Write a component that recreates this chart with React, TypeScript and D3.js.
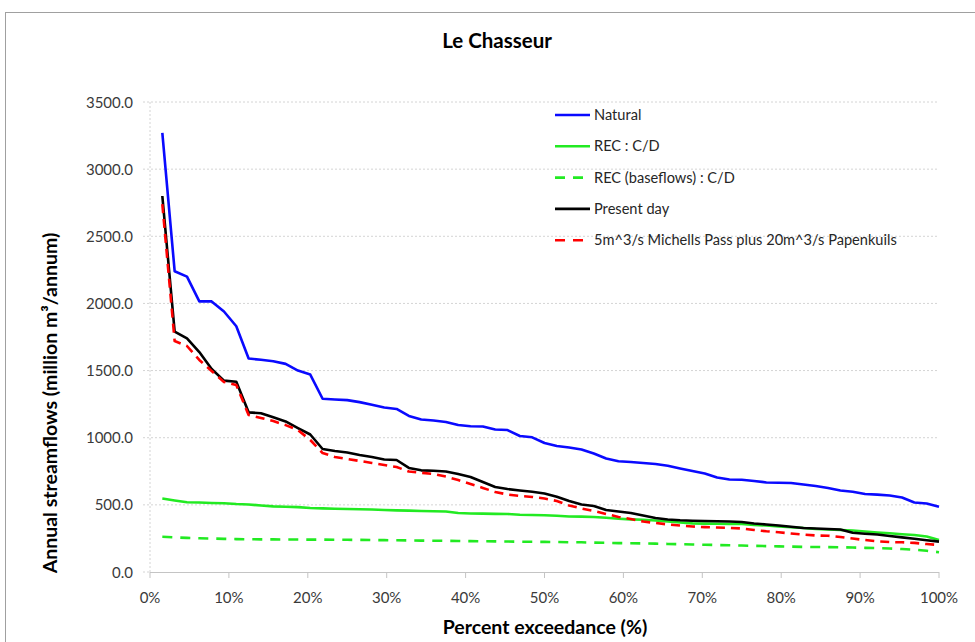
import React from "react";
import * as d3 from "d3";

// Flow duration data: 64 ranked annual streamflows (million m³/annum)
const RANKS = 64;
const exceedance = d3.range(1, RANKS + 1).map((i) => (i / RANKS) * 100);

const natural = [
  3270, 2240, 2200, 2015, 2015, 1940, 1830, 1590, 1580, 1570,
  1550, 1500, 1470, 1290, 1285, 1280, 1265, 1245, 1225, 1214,
  1162, 1136, 1128, 1117, 1095, 1085, 1083, 1061, 1057, 1013,
  1003, 961, 938, 927, 912, 882, 845, 825, 819, 812,
  804, 791, 771, 752, 734, 704, 689, 687, 678, 667,
  665, 663, 652, 640, 626, 607, 598, 581, 576, 570,
  555, 518, 510, 486,
];

const recCD = [
  547, 532, 519, 517, 514, 512, 506, 503, 495, 489,
  486, 483, 477, 474, 471, 469, 467, 465, 462, 459,
  457, 454, 452, 450, 439, 436, 435, 433, 432, 426,
  424, 423, 419, 413, 412, 410, 404, 397, 392, 389,
  384, 376, 369, 362, 360, 359, 357, 357, 351, 346,
  339, 333, 328, 320, 316, 313, 309, 302, 294, 288,
  281, 276, 264, 238,
];

const recBaseflows = [
  262, 258, 254, 251, 249, 247, 245, 244, 243, 243,
  242, 242, 241, 241, 240, 240, 239, 238, 237, 236,
  235, 234, 233, 232, 231, 230, 229, 228, 227, 226,
  225, 224, 223, 222, 221, 219, 217, 215, 214, 213,
  211, 209, 207, 205, 203, 201, 199, 197, 195, 193,
  191, 189, 187, 186, 185, 184, 182, 180, 178, 175,
  171, 166, 158, 147,
];

const presentDay = [
  2800, 1790, 1740, 1638, 1512, 1425, 1417, 1189, 1182, 1152,
  1121, 1072, 1024, 916, 901, 890, 871, 856, 838, 834,
  775, 757, 754, 748, 730, 707, 670, 633, 618, 607,
  597, 585, 561, 529, 503, 491, 462, 451, 439, 421,
  402, 391, 385, 382, 380, 378, 376, 372, 361, 354,
  346, 337, 328, 324, 320, 317, 292, 285, 279, 268,
  258, 247, 237, 226,
];

const scenario = [
  2740, 1720, 1683, 1579, 1497, 1415, 1393, 1169, 1147, 1124,
  1094, 1057, 983, 886, 856, 842, 827, 812, 797, 782,
  748, 739, 730, 711, 685, 655, 626, 596, 577, 566,
  559, 547, 529, 495, 473, 454, 432, 410, 395, 376,
  365, 354, 346, 339, 334, 331, 328, 324, 313, 303,
  296, 287, 278, 272, 270, 261, 249, 238, 229, 223,
  221, 217, 208, 201,
];

const seriesNames = [
  "Natural",
  "REC : C/D",
  "REC (baseflows) : C/D",
  "Present day",
  "5m^3/s Michells Pass plus 20m^3/s Papenkuils",
];

const yTicks = [0, 500, 1000, 1500, 2000, 2500, 3000, 3500];
const xTicks = [0, 10, 20, 30, 40, 50, 60, 70, 80, 90, 100];

const FONT = "Lato, 'Open Sans', sans-serif";

export default function App() {
  const width = 975;
  const height = 642;
  const plot = { left: 150, right: 939, top: 102, bottom: 572 };

  const x = d3.scaleLinear().domain([0, 100]).range([plot.left, plot.right]);
  const y = d3.scaleLinear().domain([0, 3500]).range([plot.bottom, plot.top]);

  const line = d3
    .line<number>()
    .x((_, i) => x(exceedance[i]))
    .y((d) => y(d));

  const series = [
    { name: seriesNames[0], values: natural, color: "#0a0aff", dash: undefined },
    { name: seriesNames[1], values: recCD, color: "#22ea22", dash: undefined },
    { name: seriesNames[2], values: recBaseflows, color: "#22ea22", dash: "10,8" },
    { name: seriesNames[3], values: presentDay, color: "#000000", dash: undefined },
    { name: seriesNames[4], values: scenario, color: "#ff0000", dash: "9,6" },
  ];

  const legendX = 553;
  const legendY0 = 115;
  const legendStep = 31.3;

  return (
    <svg
      width={width}
      height={height}
      style={{ position: "absolute", left: 0, top: 0, background: "#fff" }}
      fontFamily={FONT}
    >
      <rect x={0} y={0} width={width} height={height} fill="#fff" />
      {/* chart frame */}
      <rect x={5.5} y={12.5} width={width + 20} height={height + 20} fill="none" stroke="#a0a0a0" strokeWidth={1} />

      {/* title */}
      <text x={497} y={48} textAnchor="middle" fontSize={20.5} fontWeight="bold" fill="#000">
        Le Chasseur
      </text>

      {/* horizontal gridlines with left tick marks */}
      {yTicks.map((t) => (
        <line
          key={"g" + t}
          x1={plot.left - 7}
          x2={t === 0 ? plot.left : plot.right}
          y1={y(t)}
          y2={y(t)}
          stroke="#d4d4d4"
          strokeWidth={1}
          strokeDasharray="2,2"
        />
      ))}
      {/* vertical axis */}
      <line x1={plot.left} x2={plot.left} y1={plot.top} y2={plot.bottom} stroke="#d4d4d4" strokeDasharray="2,2" />

      {/* x axis */}
      <line x1={plot.left} x2={plot.right} y1={plot.bottom + 0.5} y2={plot.bottom + 0.5} stroke="#c4c4c4" />
      {xTicks.map((t) => (
        <line key={"xt" + t} x1={x(t)} x2={x(t)} y1={plot.bottom} y2={plot.bottom + 6} stroke="#c4c4c4" />
      ))}

      {/* y tick labels */}
      {yTicks.map((t) => (
        <text key={"yl" + t} x={133} y={y(t) + 5.5} textAnchor="end" fontSize={15} fill="#3a3a3a">
          {t.toFixed(1)}
        </text>
      ))}

      {/* x tick labels */}
      {xTicks.map((t) => (
        <text key={"xl" + t} x={x(t)} y={603} textAnchor="middle" fontSize={15} fill="#3a3a3a">
          {t + "%"}
        </text>
      ))}

      {/* axis titles */}
      <text x={545} y={634} textAnchor="middle" fontSize={19.5} fontWeight="bold" fill="#000">
        Percent exceedance (%)
      </text>
      <text
        transform="translate(57, 403) rotate(-90)"
        textAnchor="middle"
        fontSize={19.5}
        fontWeight="bold"
        fill="#000"
      >
        Annual streamflows (million m³/annum)
      </text>

      {/* series */}
      {series.map((s) => (
        <path
          key={s.name}
          d={line(s.values) || ""}
          fill="none"
          stroke={s.color}
          strokeWidth={2.6}
          strokeDasharray={s.dash}
          strokeLinejoin="round"
        />
      ))}

      {/* legend */}
      {series.map((s, i) => {
        const ly = legendY0 + i * legendStep;
        return (
          <g key={"lg" + s.name}>
            <line
              x1={legendX + 2}
              x2={legendX + 37}
              y1={ly}
              y2={ly}
              stroke={s.color}
              strokeWidth={2.6}
              strokeDasharray={s.dash ? "10,8" : undefined}
            />
            <text x={legendX + 41} y={ly + 5} fontSize={14.6} fill="#262626">
              {s.name}
            </text>
          </g>
        );
      })}
    </svg>
  );
}
